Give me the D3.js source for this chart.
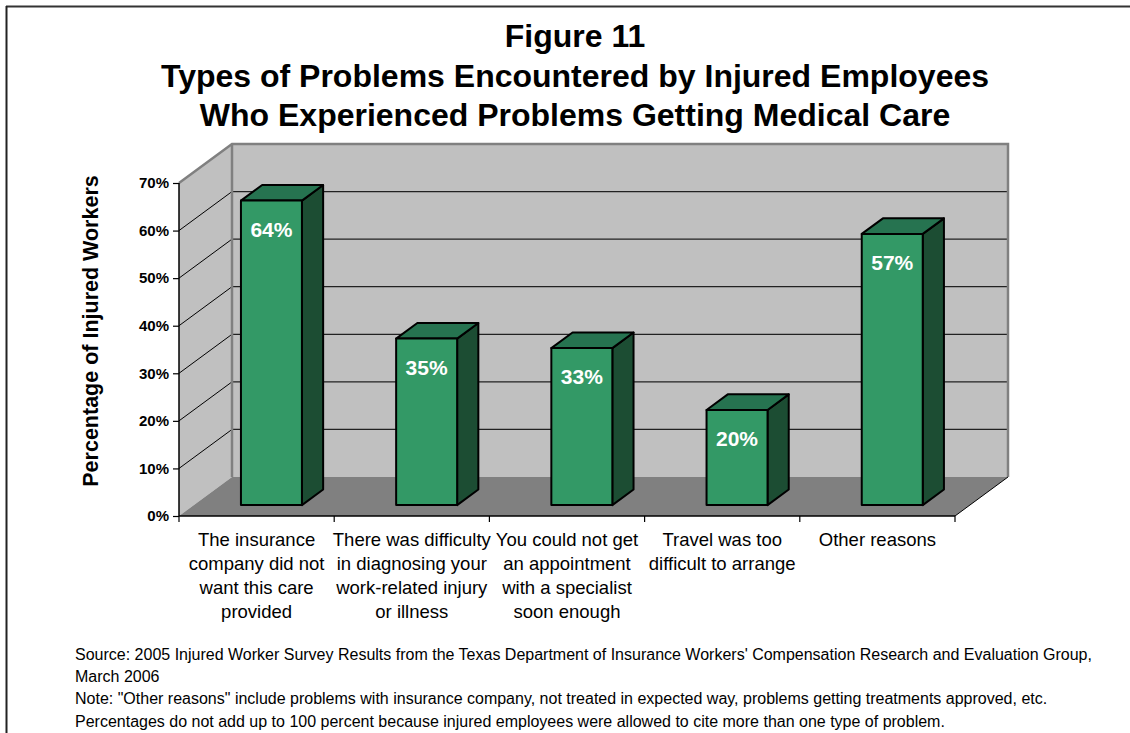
<!DOCTYPE html>
<html>
<head>
<meta charset="utf-8">
<script src="https://cdn.jsdelivr.net/npm/d3@7"></script>
<style>
  html, body { margin: 0; padding: 0; background: #ffffff; }
  svg { display: block; font-family: Arial, "Liberation Sans", Helvetica, sans-serif; }
</style>
</head>
<body>
<svg id="chart" width="1130" height="733"></svg>
<script>
// ---- data ----
const categories = [
  "The insurance company did not want this care provided",
  "There was difficulty in diagnosing your work-related injury or illness",
  "You could not get an appointment with a specialist soon enough",
  "Travel was too difficult to arrange",
  "Other reasons"
];
const categoryLines = [
  ["The insurance", "company did not", "want this care", "provided"],
  ["There was difficulty", "in diagnosing your", "work-related injury", "or illness"],
  ["You could not get", "an appointment", "with a specialist", "soon enough"],
  ["Travel was too", "difficult to arrange"],
  ["Other reasons"]
];
const values = [64, 35, 33, 20, 57];
const yTicks = [0, 10, 20, 30, 40, 50, 60, 70];
const titleLines = [
  "Figure 11",
  "Types of Problems Encountered by Injured Employees",
  "Who Experienced Problems Getting Medical Care"
];
const yAxisTitle = "Percentage of Injured Workers";
const footnotes = [
  "Source: 2005 Injured Worker Survey Results from the Texas Department of Insurance Workers' Compensation Research and Evaluation Group,",
  "March 2006",
  "Note: \"Other reasons\" include problems with insurance company, not treated in expected way, problems getting treatments approved, etc.",
  "Percentages do not add up to 100 percent because injured employees were allowed to cite more than one type of problem."
];

// ---- layout ----
const svg = d3.select("#chart");
const W = 1130, H = 733;
const front = { left: 179, right: 955, bottom: 516, top: 183 };
const depth = { dx: 53, dy: 39 };          // oblique offset of the back wall
const barDepth = [0.28, 0.68];             // bar front / back position in depth (0..1)

const x = d3.scaleBand()
  .domain(categories)
  .range([front.left, front.right])
  .paddingInner(0.607)
  .paddingOuter(0.3035);

const y = d3.scaleLinear().domain([0, 70]).range([front.bottom, front.top]);

// project a point (screen x at front, value, depth fraction) into the picture
const P = (px, v, z) => [px + z * depth.dx, y(v) - z * depth.dy];
const poly = pts => "M" + pts.map(p => p.join(",")).join("L") + "Z";

// ---- outer frame (top and left rules) ----
svg.append("line").attr("x1", 6).attr("x2", W).attr("y1", 6.5).attr("y2", 6.5)
  .attr("stroke", "#333").attr("stroke-width", 2);
svg.append("line").attr("x1", 6.5).attr("x2", 6.5).attr("y1", 6).attr("y2", H)
  .attr("stroke", "#222").attr("stroke-width", 2);

// ---- title ----
svg.append("g").selectAll("text").data(titleLines).join("text")
  .attr("x", 575)
  .attr("y", (d, i) => 47 + i * 39.5)
  .attr("text-anchor", "middle")
  .attr("font-size", 32)
  .attr("font-weight", "bold")
  .attr("fill", "#000")
  .text(d => d);

// ---- walls and floor ----
const walls = svg.append("g");
const yMax = 70;
// side wall
walls.append("path")
  .attr("d", poly([P(front.left, 0, 0), P(front.left, yMax, 0), P(front.left, yMax, 1), P(front.left, 0, 1)]))
  .attr("fill", "#c0c0c0");
// back wall
walls.append("path")
  .attr("d", poly([P(front.left, 0, 1), P(front.left, yMax, 1), P(front.right, yMax, 1), P(front.right, 0, 1)]))
  .attr("fill", "#c0c0c0");
// floor
walls.append("path")
  .attr("d", poly([P(front.left, 0, 0), P(front.left, 0, 1), P(front.right, 0, 1), P(front.right, 0, 0)]))
  .attr("fill", "#808080");

// gridlines on side wall and back wall
const gridTicks = yTicks.filter(t => t > 0 && t < yMax);
walls.selectAll("line.side").data(gridTicks).join("line")
  .attr("class", "side")
  .attr("x1", d => P(front.left, d, 0)[0]).attr("y1", d => P(front.left, d, 0)[1])
  .attr("x2", d => P(front.left, d, 1)[0]).attr("y2", d => P(front.left, d, 1)[1])
  .attr("stroke", "#000").attr("stroke-width", 1);
walls.selectAll("line.back").data(gridTicks).join("line")
  .attr("class", "back")
  .attr("x1", d => P(front.left, d, 1)[0]).attr("y1", d => P(front.left, d, 1)[1])
  .attr("x2", d => P(front.right, d, 1)[0]).attr("y2", d => P(front.right, d, 1)[1])
  .attr("stroke", "#222").attr("stroke-width", 1.2);

// wall outlines
walls.append("path")
  .attr("d", "M" + [P(front.left, yMax, 0), P(front.left, yMax, 1), P(front.right, yMax, 1), P(front.right, 0, 1)].map(p => p.join(",")).join("L"))
  .attr("fill", "none").attr("stroke", "#808080").attr("stroke-width", 2.5);
walls.append("line")
  .attr("x1", P(front.left, yMax, 1)[0]).attr("y1", P(front.left, yMax, 1)[1])
  .attr("x2", P(front.left, 0, 1)[0]).attr("y2", P(front.left, 0, 1)[1])
  .attr("stroke", "#808080").attr("stroke-width", 2.5);
// floor right edge
walls.append("line")
  .attr("x1", P(front.right, 0, 0)[0]).attr("y1", P(front.right, 0, 0)[1])
  .attr("x2", P(front.right, 0, 1)[0]).attr("y2", P(front.right, 0, 1)[1])
  .attr("stroke", "#000").attr("stroke-width", 1);

// ---- bars ----
const colFront = "#339966", colTop = "#267350", colSide = "#1c4d33";
const bars = svg.append("g").selectAll("g").data(categories.map((c, i) => ({ c, v: values[i] }))).join("g");
const z0 = barDepth[0], z1 = barDepth[1];
bars.append("path") // side
  .attr("d", d => {
    const xr = x(d.c) + x.bandwidth();
    return poly([P(xr, 0, z0), P(xr, d.v, z0), P(xr, d.v, z1), P(xr, 0, z1)]);
  })
  .attr("fill", colSide).attr("stroke", "#000").attr("stroke-width", 2).attr("stroke-linejoin", "round");
bars.append("path") // top
  .attr("d", d => {
    const xl = x(d.c), xr = xl + x.bandwidth();
    return poly([P(xl, d.v, z0), P(xl, d.v, z1), P(xr, d.v, z1), P(xr, d.v, z0)]);
  })
  .attr("fill", colTop).attr("stroke", "#000").attr("stroke-width", 2).attr("stroke-linejoin", "round");
bars.append("path") // front
  .attr("d", d => {
    const xl = x(d.c), xr = xl + x.bandwidth();
    return poly([P(xl, 0, z0), P(xl, d.v, z0), P(xr, d.v, z0), P(xr, 0, z0)]);
  })
  .attr("fill", colFront).attr("stroke", "#000").attr("stroke-width", 2).attr("stroke-linejoin", "round");
bars.append("text") // value label
  .attr("x", d => P(x(d.c) + x.bandwidth() / 2, d.v, z0)[0])
  .attr("y", d => P(0, d.v, z0)[1] + 36)
  .attr("text-anchor", "middle")
  .attr("font-size", 21)
  .attr("font-weight", "bold")
  .attr("fill", "#fff")
  .text(d => d.v + "%");

// ---- axes ----
const axes = svg.append("g");
axes.append("line")
  .attr("x1", front.left).attr("x2", front.left).attr("y1", y(yMax)).attr("y2", y(0))
  .attr("stroke", "#000").attr("stroke-width", 1.5);
axes.append("line")
  .attr("x1", front.left).attr("x2", front.right).attr("y1", y(0)).attr("y2", y(0))
  .attr("stroke", "#000").attr("stroke-width", 1.5);

const yAxis = d3.axisLeft(y).tickValues(yTicks).tickSize(6).tickPadding(4).tickFormat(d => d + "%");
const yg = axes.append("g").attr("transform", `translate(${front.left},0)`).call(yAxis);
yg.select(".domain").remove();
yg.selectAll(".tick line").attr("stroke", "#000").attr("stroke-width", 1.2);
yg.selectAll(".tick text")
  .attr("font-family", "Arial, 'Liberation Sans', sans-serif")
  .attr("font-size", 15).attr("font-weight", "bold").attr("fill", "#000");

// x ticks sit on category boundaries
const boundaries = d3.range(categories.length + 1).map(i => front.left + i * x.step());
axes.selectAll("line.xt").data(boundaries).join("line")
  .attr("class", "xt")
  .attr("x1", d => d).attr("x2", d => d)
  .attr("y1", y(0)).attr("y2", y(0) + 6)
  .attr("stroke", "#000").attr("stroke-width", 1.2);

// category labels
const catG = axes.append("g").selectAll("text").data(categories).join("text")
  .attr("text-anchor", "middle")
  .attr("font-size", 18.5)
  .attr("fill", "#000");
catG.each(function (c, i) {
  const cx = front.left + (i + 0.5) * x.step();
  d3.select(this).selectAll("tspan").data(categoryLines[i]).join("tspan")
    .attr("x", cx)
    .attr("y", (d, j) => 546 + j * 24)
    .text(d => d);
});

// y axis title
svg.append("text")
  .attr("transform", "translate(97.5,331) rotate(-90)")
  .attr("text-anchor", "middle")
  .attr("font-size", 21.5)
  .attr("font-weight", "bold")
  .attr("fill", "#000")
  .text(yAxisTitle);

// ---- footnotes ----
svg.append("g").selectAll("text").data(footnotes).join("text")
  .attr("x", 75)
  .attr("y", (d, i) => 660 + i * 22.2)
  .attr("font-size", 16)
  .attr("fill", "#000")
  .text(d => d);
</script>
</body>
</html>
